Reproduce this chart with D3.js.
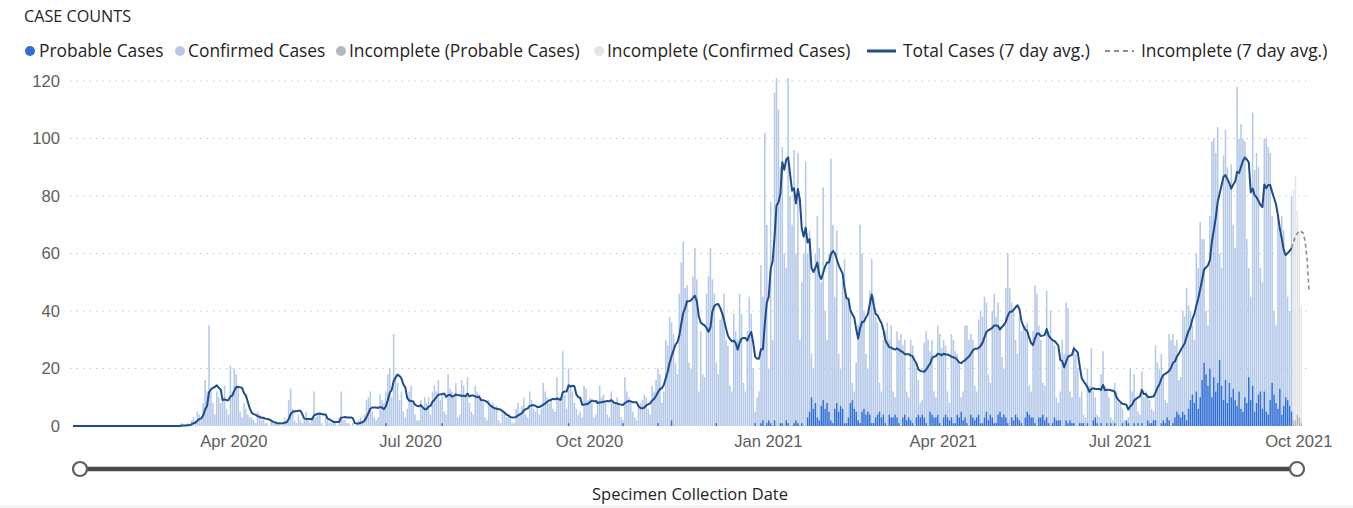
<!DOCTYPE html>
<html><head><meta charset="utf-8">
<script src="https://cdn.jsdelivr.net/npm/d3@7"></script>
<style>
html,body{margin:0;padding:0;background:#fff;overflow:hidden}
svg{display:block;font-family:"Open Sans","Segoe UI",sans-serif}
</style></head><body>
<svg id="chart" width="1353" height="508"></svg>
<script>
// ---------------- DATA ----------------
const startDate = "2020-01-09";
const endDateExclusive = "2021-10-07";
const incompleteStart = "2021-09-28";
const yTicks = [0, 20, 40, 60, 80, 100, 120];
const xTickDates = ["2020-04-01","2020-07-01","2020-10-01","2021-01-01","2021-04-01","2021-07-01","2021-10-01"];
const xTickLabels = ["Apr 2020","Jul 2020","Oct 2020","Jan 2021","Apr 2021","Jul 2021","Oct 2021"];
const legendLabels = ["Probable Cases","Confirmed Cases","Incomplete (Probable Cases)","Incomplete (Confirmed Cases)","Total Cases (7 day avg.)","Incomplete (7 day avg.)"];
const titleText = "CASE COUNTS";
const sliderLabel = "Specimen Collection Date";

// daily total cases (probable + confirmed), Jan 9 2020 - Dec 31 2020
const total2020 = [
  0,0,0,0,0,0,0,0,0,0,0,0,0,0,0,0,0,0,0,0,0,0,0,                       // Jan 9-31
  0,0,0,0,0,0,0,0,0,0,0,0,0,0,0,0,0,0,0,0,0,0,0,0,0,0,0,0,0,             // Feb
  0,0,0,0,1,0,0,1,0,2,3,2,5,4,2,8,16,12,35,12,8,4,12,10,8,9,14,6,4,21,12, // Mar
  20,18,14,5,3,8,6,4,3,3,2,1,5,4,2,3,1,1,0,2,1,1,1,1,0,1,3,2,9,13,       // Apr
  6,2,1,4,2,1,2,5,2,1,3,12,3,4,5,1,0,3,2,1,1,2,1,0,3,12,2,2,1,1,0,       // May
  1,0,1,2,3,2,4,9,10,12,5,3,2,3,11,9,8,12,18,20,10,32,18,15,9,12,5,3,6,12, // Jun
  14,8,4,2,2,9,6,10,8,10,4,12,14,12,16,9,11,5,4,18,13,12,10,15,3,4,16,14,10,17,8, // Jul
  5,4,14,12,11,9,8,3,2,9,7,8,6,7,2,1,5,4,3,4,3,1,1,6,8,5,7,10,4,3,12,    // Aug
  9,6,5,7,4,6,15,12,10,8,9,6,5,17,10,9,26,11,6,20,14,12,8,6,4,5,3,14,13,9, // Sep
  10,8,3,4,9,14,10,11,9,4,3,12,9,8,10,7,3,2,17,12,10,9,5,3,2,7,8,9,11,10,6, // Oct
  4,14,12,16,20,18,8,12,30,28,38,36,32,22,18,46,57,64,48,49,22,20,52,62,51,12,33,18,17,46, // Nov
  52,62,51,46,22,18,37,39,46,30,28,14,12,39,33,30,46,39,15,12,33,45,39,20,5,10,12,56,45,102,70 // Dec
];
// daily total cases, Jan 1 2021 - Oct 6 2021
const total2021 = [
  20,78,30,116,121,110,90,97,60,55,121,80,70,96,60,95,30,50,60,92,60,68,25,20,60,73,62,50,83,40,30, // Jan
  60,93,70,45,68,25,20,50,58,45,44,40,15,12,22,35,70,60,40,25,20,47,58,45,38,36,15,12,          // Feb
  30,33,36,30,35,12,10,33,30,32,28,30,12,10,30,28,22,20,16,8,9,29,33,30,26,30,12,10,35,32,27,    // Mar
  30,28,12,8,32,30,26,25,22,10,12,35,35,30,32,30,14,12,37,40,38,45,43,18,15,40,46,38,43,35,      // Apr
  24,20,48,60,48,43,40,30,25,38,33,34,35,36,14,12,33,49,46,35,30,15,14,47,33,40,30,28,10,8,12,   // May
  30,25,43,41,12,10,28,25,20,10,12,4,3,20,14,27,12,10,4,3,18,26,14,13,10,3,2,15,12,8,           // Jun
  8,6,2,1,3,20,12,18,10,5,4,19,10,12,11,9,6,5,28,22,20,25,18,9,8,32,30,32,28,30,16,             // Jul
  17,40,38,48,42,40,35,30,60,55,71,65,65,40,35,73,99,100,95,104,60,55,94,103,90,85,91,70,62,118,100, // Aug
  105,100,99,65,55,45,109,89,95,90,55,50,100,100,97,95,73,40,35,73,67,73,68,60,45,40,80,82,87,75, // Sep
  67,42,37,59,40,10                                                                              // Oct 1-6
];
// daily probable cases, Jan 9 2020 - Dec 31 2020
const probable2020 = [
  0,0,0,0,0,0,0,0,0,0,0,0,0,0,0,0,0,0,0,0,0,0,0,
  0,0,0,0,0,0,0,0,0,0,0,0,0,0,0,0,0,0,0,0,0,0,0,0,0,
  0,0,0,0,0,0,0,0,0,0,0,0,0,0,0,0,0,0,0,0,0,0,0,0,0,0,0,0,0,0,0,
  0,0,0,0,0,0,0,0,0,0,0,0,0,0,0,0,0,0,0,0,0,0,0,0,0,0,0,0,0,0,
  0,0,0,0,0,0,0,0,0,0,0,0,0,0,0,0,0,0,0,0,0,0,0,0,0,0,0,0,0,0,0,
  0,0,0,0,0,0,0,0,0,0,0,0,0,0,0,0,0,0,0,0,0,1,0,0,0,0,0,0,0,0,
  0,0,0,0,0,0,0,0,0,0,0,0,0,0,0,0,0,0,0,0,1,0,0,0,0,0,0,0,0,0,0,
  0,0,0,0,0,0,0,0,0,0,0,0,0,0,0,0,0,0,0,0,0,0,0,0,0,0,0,0,0,0,0,
  0,0,0,0,0,0,0,0,0,0,0,0,0,0,0,0,0,0,0,0,0,0,0,1,0,0,0,0,0,0,
  0,0,0,0,0,0,0,0,0,0,0,0,0,0,0,0,0,0,0,0,0,1,0,0,0,0,0,0,0,0,0,
  0,0,0,0,0,0,0,0,1,0,0,0,0,0,0,2,0,0,0,0,0,0,0,0,0,0,0,0,0,0,
  0,0,0,0,0,0,0,0,1,0,0,0,0,0,0,0,0,0,0,0,0,0,0,0,0,0,0,0,1,0,0
];
// daily probable cases, Jan 1 2021 - Oct 6 2021
const probable2021 = [
  1,2,0,1,2,1,0,2,0,0,1,1,0,2,1,0,0,1,2,1,0,1,0,0,3,5,10,6,8,3,2,
  7,9,6,8,5,2,1,6,8,5,7,6,1,1,3,8,9,6,5,2,1,5,6,4,5,4,1,1,
  3,4,5,3,4,1,0,4,3,3,4,3,1,0,3,4,2,3,2,1,0,3,4,3,4,3,1,0,5,4,3,
  3,4,1,0,3,4,3,2,3,1,1,4,3,5,2,3,1,0,4,3,2,3,4,1,1,3,5,2,4,3,
  1,1,4,5,3,4,3,1,0,3,2,4,3,2,1,0,3,5,4,3,3,1,0,3,3,4,2,3,1,0,1,
  3,2,2,2,0,0,2,1,2,1,1,0,0,1,1,1,0,1,0,0,2,3,1,0,1,0,0,1,0,1,
  0,1,0,0,0,1,0,2,1,0,0,1,0,1,0,1,0,0,2,1,1,2,2,0,0,1,2,1,3,2,0,
  1,3,5,4,3,5,4,2,6,9,11,8,12,6,10,16,22,18,14,20,10,17,12,15,23,14,9,16,8,15,10,
  13,9,7,12,6,5,10,8,17,9,14,5,8,11,12,6,12,5,4,9,15,11,8,6,13,4,7,10,9,7,
  5,2,2,4,3,1
];

// ---------------- STYLE ----------------
const C = {
  probable: "#2F6ED4",
  confirmed: "#B5C9E9",
  incProbable: "#B3B7BE",
  incConfirmed: "#E2E4E8",
  line: "#1F4C8C",
  dashed: "#8E8E8E",
  text: "#252423",
  axis: "#605E5C",
  grid: "#C8C8C8"
};

const svg = d3.select("#chart");
const parse = d3.utcParse("%Y-%m-%d");
const t0 = parse(startDate), t1 = parse(endDateExclusive), tInc = parse(incompleteStart);

const totals = total2020.concat(total2021);
const probs = probable2020.concat(probable2021);
const days = totals.map((t, i) => {
  const date = d3.utcDay.offset(t0, i);
  const w = totals.slice(Math.max(0, i - 6), i + 1);
  return { date, total: t, probable: probs[i], confirmed: t - probs[i],
           incomplete: date >= tInc, avg: d3.sum(w) / 7 };
});

const x = d3.scaleUtc().domain([t0, t1]).range([72, 1310]);
const y = d3.scaleLinear().domain([0, 120]).range([426, 81]);
const step = x(d3.utcDay.offset(t0, 1)) - x(t0);
const bw = step * 0.8;

// title
svg.append("text").attr("x", 24).attr("y", 21.5).attr("font-size", 16.2).attr("fill", C.text).text(titleText);

// legend
const lg = svg.append("g").attr("font-size", 17.4).attr("fill", C.text);
const legendDefs = [
  { type: "dot", color: C.probable, mx: 30, tx: 39 },
  { type: "dot", color: C.confirmed, mx: 180, tx: 188 },
  { type: "dot", color: C.incProbable, mx: 341, tx: 349 },
  { type: "dot", color: C.incConfirmed, mx: 599, tx: 607 },
  { type: "line", color: C.line, mx: 867, tx: 903 },
  { type: "dash", color: C.dashed, mx: 1105, tx: 1141 }
];
legendDefs.forEach((d, i) => {
  if (d.type === "dot") {
    lg.append("circle").attr("cx", d.mx).attr("cy", 51).attr("r", 5).attr("fill", d.color);
  } else {
    lg.append("line").attr("x1", d.mx).attr("x2", d.mx + 29).attr("y1", 51).attr("y2", 51)
      .attr("stroke", d.color).attr("stroke-width", d.type === "line" ? 3 : 2)
      .attr("stroke-dasharray", d.type === "dash" ? "5,4" : null);
  }
  lg.append("text").attr("x", d.tx).attr("y", 51).attr("dy", "0.35em").text(legendLabels[i]);
});

// gridlines
svg.append("g").selectAll("line").data(yTicks.filter(v => v > 0)).join("line")
  .attr("x1", 70).attr("x2", 1310).attr("y1", d => y(d)).attr("y2", d => y(d))
  .attr("stroke", C.grid).attr("stroke-width", 1).attr("stroke-dasharray", "1.5,5");

// y axis
const ya = svg.append("g").attr("transform", "translate(70,0)")
  .call(d3.axisLeft(y).tickValues(yTicks).tickSize(0).tickPadding(10));
ya.select(".domain").remove();
ya.selectAll("text").attr("font-size", 16.6).attr("fill", C.axis).attr("font-family", null);

// x axis
const xa = svg.append("g").attr("transform", "translate(0,426)")
  .call(d3.axisBottom(x).tickValues(xTickDates.map(parse)).tickSize(0).tickPadding(9)
    .tickFormat((d, i) => xTickLabels[i]));
xa.select(".domain").remove();
xa.selectAll("text").attr("font-size", 16.6).attr("fill", C.axis).attr("font-family", null);

// bars
const bars = svg.append("g");
bars.selectAll("rect.conf").data(days.filter(d => d.confirmed > 0)).join("rect")
  .attr("x", d => x(d.date) + (step - bw) / 2).attr("width", bw)
  .attr("y", d => y(d.total)).attr("height", d => y(d.probable) - y(d.total))
  .attr("fill", d => d.incomplete ? C.incConfirmed : C.confirmed);
bars.selectAll("rect.prob").data(days.filter(d => d.probable > 0)).join("rect")
  .attr("x", d => x(d.date) + (step - bw) / 2).attr("width", bw)
  .attr("y", d => y(d.probable)).attr("height", d => y(0) - y(d.probable))
  .attr("fill", d => d.incomplete ? C.incProbable : C.probable);

// 7-day average lines
const line = d3.line().x(d => x(d.date) + step / 2).y(d => y(d.avg)).curve(d3.curveLinear);
const lastComplete = days.findIndex(d => d.incomplete) - 1;
svg.append("path").datum(days.slice(0, lastComplete + 1)).attr("d", line)
  .attr("fill", "none").attr("stroke", C.line).attr("stroke-width", 2).attr("stroke-linejoin", "round");
svg.append("path").datum(days.slice(lastComplete)).attr("d", line)
  .attr("fill", "none").attr("stroke", C.dashed).attr("stroke-width", 1.6).attr("stroke-dasharray", "4,3");

// range slider
svg.append("line").attr("x1", 80).attr("x2", 1297).attr("y1", 469).attr("y2", 469)
  .attr("stroke", "#4A4A4A").attr("stroke-width", 4.5);
[80, 1297].forEach(cx => svg.append("circle").attr("cx", cx).attr("cy", 469).attr("r", 7)
  .attr("fill", "#fff").attr("stroke", "#5E5E5E").attr("stroke-width", 2.2));
svg.append("text").attr("x", 690).attr("y", 494).attr("dy", "0.35em").attr("text-anchor", "middle")
  .attr("font-size", 16.5).attr("fill", C.text).text(sliderLabel);
svg.append("line").attr("x1", 0).attr("x2", 1353).attr("y1", 506.5).attr("y2", 506.5)
  .attr("stroke", "#ECECEC").attr("stroke-width", 1.5);
</script>
</body></html>
